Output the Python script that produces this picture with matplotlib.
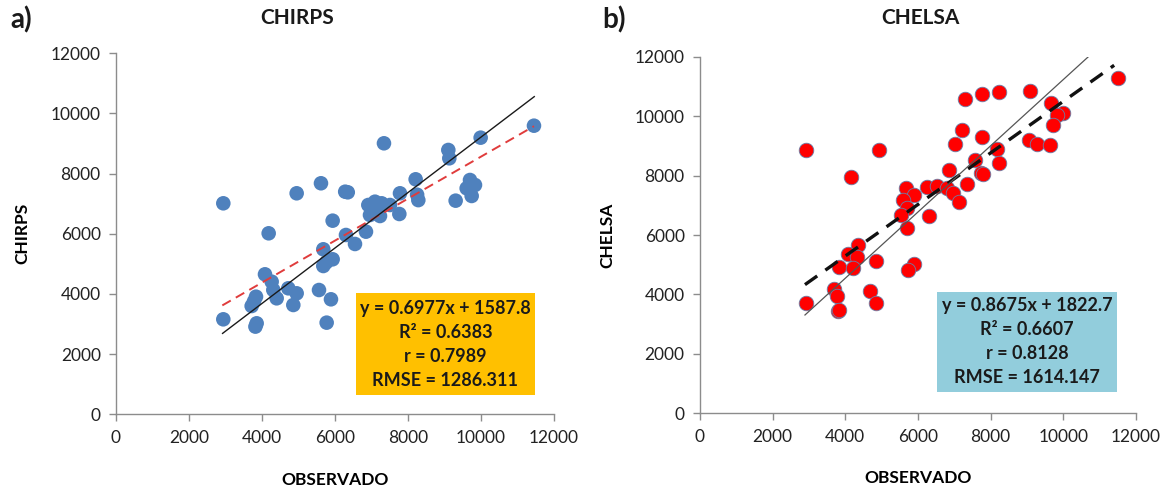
import matplotlib.pyplot as plt
from matplotlib.patches import Rectangle
import numpy as np

plt.rcParams['font.family'] = ['Lato', 'DejaVu Sans']

# Annual precipitation: observed vs. satellite product (mm)
chirps_obs = [2940, 2940, 11452, 9991, 7342, 9105, 9132, 8210, 5616, 4950,
              6280, 6350, 9699, 9836, 9608, 9745, 9306, 8250, 8283, 7781,
              7763, 6913, 7096, 7279, 7507, 7142, 7233, 6959, 5936, 4183,
              6849, 6301, 6548, 5680, 5936, 5680, 5760, 4082, 4265, 4310,
              4721, 4950, 4402, 4858, 5562, 5890, 3836, 3717, 3854, 3820,
              5772, 3780]
chirps_est = [7014, 3158, 9594, 9196, 9009, 8787, 8510, 7812, 7680, 7347,
              7400, 7380, 7789, 7623, 7513, 7258, 7102, 7300, 7120, 7347,
              6659, 6958, 7068, 7014, 6958, 6737, 6592, 6625, 6437, 6017,
              6071, 5961, 5662, 5485, 5153, 4930, 5050, 4654, 4409, 4132,
              4189, 4022, 3856, 3634, 4132, 3823, 3910, 3600, 3025, 2915,
              3047, 3750]

chelsa_obs = [2918, 4918, 4165, 11496, 7303, 7762, 8239, 9092, 9653, 10001,
              9836, 9726, 9065, 9285, 9634, 7202, 7762, 7028, 8166, 8239,
              7569, 6863, 7726, 7780, 7340, 5670, 5890, 6257, 6515, 6790,
              6973, 7137, 5597, 5688, 5523, 6294, 5688, 4358, 4083, 4312,
              4844, 3816, 4202, 5890, 5734, 3697, 3762, 4679, 4844, 2918,
              3807, 3835]
chelsa_est = [8859, 8859, 7941, 11292, 10575, 10733, 10821, 10855, 10451, 10115,
              10037, 9701, 9196, 9061, 9028, 9533, 9286, 9061, 8882, 8432,
              8523, 8187, 8075, 8050, 7715, 7571, 7346, 7626, 7648, 7571,
              7403, 7100, 7177, 6898, 6673, 6649, 6225, 5663, 5360, 5270,
              5135, 4913, 4879, 5024, 4822, 4172, 3957, 4126, 3701, 3721,
              3452, 3490]

# Linear fits and statistics
chirps_slope, chirps_icept = 0.6977, 1587.8
chirps_stats = ['y = 0.6977x + 1587.8', 'R² = 0.6383', 'r = 0.7989', 'RMSE = 1286.311']
chirps_fit_x = [2913, 11452]
chirps_ref_x = [2920, 11460]
chirps_ref_y = [2690, 10560]

chelsa_slope, chelsa_icept = 0.8675, 1822.7
chelsa_stats = ['y = 0.8675x + 1822.7', 'R² = 0.6607', 'r = 0.8128', 'RMSE = 1614.147']
chelsa_fit_x = [2890, 11400]
chelsa_ref_x = [2890, 10690]
chelsa_ref_y = [3308, 12000]

ticks = [0, 2000, 4000, 6000, 8000, 10000, 12000]

fig = plt.figure(figsize=(11.67, 4.86), dpi=100)
ax1 = fig.add_axes([0.0994, 0.1475, 0.3753, 0.7428])
ax2 = fig.add_axes([0.5998, 0.1496, 0.3736, 0.7337])


def style_axes(ax):
    ax.set_xlim(0, 12000)
    ax.set_ylim(0, 12000)
    ax.set_xticks(ticks)
    ax.set_yticks(ticks)
    for s in ['top', 'right']:
        ax.spines[s].set_visible(False)
    for s in ['left', 'bottom']:
        ax.spines[s].set_color('#8c8c8c')
        ax.spines[s].set_linewidth(1.0)
    ax.tick_params(direction='out', length=5, width=1, color='#8c8c8c',
                   labelsize=12.5, labelcolor='#222222', pad=6)


def stats_box(ax, lines, color, x0, y0, w, h):
    ax.add_patch(Rectangle((x0, y0), w, h, transform=ax.transAxes,
                           facecolor=color, edgecolor='none', zorder=4))
    ax.text(x0 + w / 2, y0 + h / 2, '\n'.join(lines), transform=ax.transAxes,
            ha='center', va='center', fontsize=13, fontweight='bold',
            color='#1a1a1a', linespacing=1.5, zorder=5)


def axis_labels(ax, ylabel):
    ax.set_xlabel('OBSERVADO', fontsize=12.5, fontweight='bold')
    ax.set_ylabel(ylabel, fontsize=12.5, fontweight='bold')
    ax.xaxis.set_label_coords(0.5, -0.16)
    ax.yaxis.set_label_coords(-0.195, 0.5)


# a) CHIRPS
style_axes(ax1)
ax1.scatter(chirps_obs, chirps_est, s=110, color='#4f81bd', edgecolors='none', zorder=2)
fx = np.array(chirps_fit_x)
ax1.plot(fx, chirps_slope * fx + chirps_icept, color='#e03c3c', lw=1.4,
         dashes=(5, 3), zorder=3)
ax1.plot(chirps_ref_x, chirps_ref_y, color='#1a1a1a', lw=1.0, zorder=3)
stats_box(ax1, chirps_stats, '#ffc000', 0.548, 0.0535, 0.4085, 0.2815)
axis_labels(ax1, 'CHIRPS')

# b) CHELSA
style_axes(ax2)
ax2.scatter(chelsa_obs, chelsa_est, s=110, color='#ff0000', edgecolors='#6a7fa8',
            linewidths=0.6, zorder=2)
fx = np.array(chelsa_fit_x)
ax2.plot(fx, chelsa_slope * fx + chelsa_icept, color='#111111', lw=2.4,
         dashes=(4.5, 3), zorder=3)
ax2.plot(chelsa_ref_x, chelsa_ref_y, color='#555555', lw=0.9, zorder=3)
stats_box(ax2, chelsa_stats, '#92cddc', 0.544, 0.059, 0.4115, 0.282)
axis_labels(ax2, 'CHELSA')

fig.text(297 / 1167, 1 - 18 / 486, 'CHIRPS', ha='center', va='center',
         fontsize=15, fontweight='bold', color='#1a1a1a')
fig.text(920 / 1167, 1 - 18 / 486, 'CHELSA', ha='center', va='center',
         fontsize=15, fontweight='bold', color='#1a1a1a')
fig.text(10 / 1167, 1 - 20 / 486, 'a)', ha='left', va='center',
         fontsize=20, fontweight='bold', color='#1a1a1a')
fig.text(602 / 1167, 1 - 20 / 486, 'b)', ha='left', va='center',
         fontsize=20, fontweight='bold', color='#1a1a1a')

fig.savefig('out.png', dpi=100)
